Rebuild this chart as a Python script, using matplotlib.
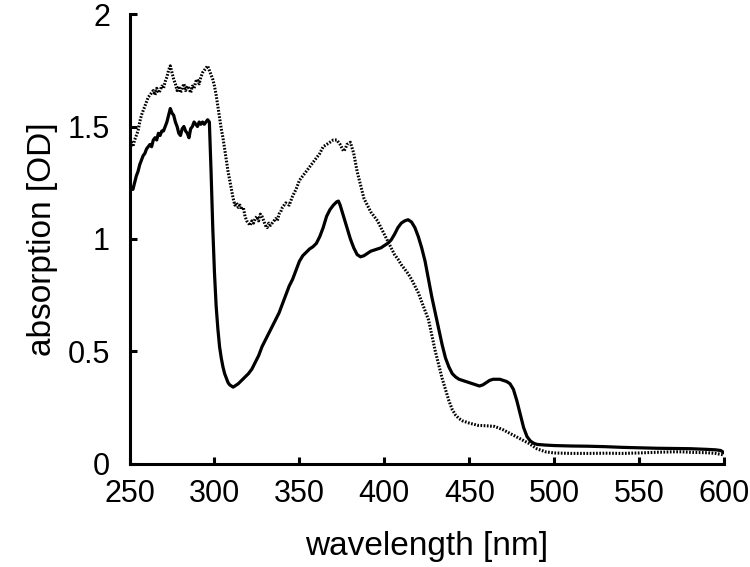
import matplotlib
matplotlib.use("Agg")
import matplotlib.pyplot as plt

plt.rcParams['font.family'] = ['Liberation Sans', 'DejaVu Sans']

# Solid spectrum
wl_solid = [250, 251, 252, 253, 254, 255, 256, 257, 258, 259, 260, 261, 262, 263, 264, 265,
            266, 267, 268, 269, 270, 271, 272, 273, 274, 275, 276, 277, 278, 279, 280, 281,
            282, 283, 284, 285, 286, 287, 288, 289, 290, 291, 292, 293, 294, 295, 296, 297,
            298, 299, 300, 301, 302, 303, 304, 305, 306, 307, 308, 309, 310, 311, 312, 314,
            316, 318, 320, 322, 324, 326, 328, 330, 332, 334, 336, 338, 340, 342, 344, 346,
            348, 350, 352, 354, 356, 358, 360, 362, 364, 366, 368, 370, 372, 373, 374, 376,
            378, 380, 382, 384, 386, 388, 390, 392, 394, 396, 398, 400, 402, 404, 406, 408,
            410, 412, 414, 416, 418, 420, 422, 424, 426, 428, 430, 432, 434, 436, 438, 440,
            442, 444, 446, 448, 450, 452, 454, 456, 458, 460, 462, 464, 466, 468, 470, 472,
            474, 476, 478, 480, 482, 484, 486, 488, 490, 495, 500, 510, 520, 530, 540, 550,
            560, 570, 580, 590, 595, 598, 600]
abs_solid = [1.20, 1.23, 1.22, 1.25, 1.28, 1.30, 1.33, 1.35, 1.37, 1.38, 1.40, 1.41, 1.42, 1.41, 1.44, 1.45,
             1.44, 1.47, 1.46, 1.48, 1.48, 1.50, 1.52, 1.55, 1.58, 1.56, 1.55, 1.52, 1.50, 1.47, 1.46, 1.49,
             1.50, 1.48, 1.47, 1.45, 1.49, 1.50, 1.52, 1.51, 1.50, 1.52, 1.51, 1.52, 1.51, 1.52, 1.53, 1.52,
             1.30, 1.05, 0.85, 0.70, 0.60, 0.52, 0.47, 0.43, 0.40, 0.38, 0.36, 0.35, 0.345, 0.34, 0.345, 0.355,
             0.37, 0.385, 0.40, 0.42, 0.45, 0.48, 0.52, 0.55, 0.58, 0.61, 0.64, 0.67, 0.71, 0.75, 0.79, 0.82,
             0.86, 0.90, 0.925, 0.94, 0.955, 0.965, 0.98, 1.01, 1.05, 1.10, 1.13, 1.15, 1.165, 1.168, 1.15, 1.10,
             1.05, 1.00, 0.96, 0.93, 0.92, 0.925, 0.935, 0.945, 0.95, 0.955, 0.96, 0.97, 0.98, 0.995, 1.02, 1.05,
             1.07, 1.08, 1.085, 1.075, 1.05, 1.01, 0.96, 0.90, 0.82, 0.74, 0.67, 0.60, 0.53, 0.47, 0.43, 0.40,
             0.385, 0.375, 0.37, 0.365, 0.36, 0.355, 0.35, 0.345, 0.35, 0.36, 0.37, 0.375, 0.375, 0.375, 0.37, 0.365,
             0.355, 0.33, 0.28, 0.22, 0.16, 0.12, 0.10, 0.09, 0.085, 0.082, 0.08, 0.078, 0.077, 0.075, 0.072, 0.070,
             0.068, 0.067, 0.066, 0.063, 0.061, 0.058, 0.048]

# Dotted spectrum
wl_dotted = [250, 251, 252, 253, 254, 255, 256, 257, 258, 259, 260, 261, 262, 263, 264, 265,
             266, 267, 268, 269, 270, 271, 272, 273, 274, 275, 276, 277, 278, 279, 280, 281,
             282, 283, 284, 285, 286, 287, 288, 289, 290, 291, 292, 293, 294, 295, 296, 297,
             298, 299, 300, 301, 302, 303, 304, 305, 306, 307, 308, 309, 310, 311, 312, 313,
             314, 315, 316, 317, 318, 319, 320, 321, 322, 323, 324, 325, 326, 327, 328, 329,
             330, 331, 332, 333, 334, 335, 336, 337, 338, 339, 340, 342, 344, 346, 348, 350,
             352, 354, 356, 358, 360, 362, 364, 366, 368, 370, 372, 374, 376, 377, 378, 380,
             382, 384, 386, 388, 390, 392, 394, 396, 398, 400, 402, 404, 406, 408, 410, 412,
             414, 416, 418, 420, 422, 424, 426, 428, 430, 432, 434, 436, 438, 440, 442, 444,
             446, 448, 450, 455, 460, 465, 470, 475, 480, 485, 490, 495, 500, 510, 520, 530,
             540, 550, 560, 570, 575, 580, 590, 595, 600]
abs_dotted = [1.40, 1.43, 1.41, 1.44, 1.46, 1.48, 1.52, 1.55, 1.57, 1.59, 1.61, 1.63, 1.64, 1.65, 1.66, 1.64,
              1.67, 1.65, 1.66, 1.68, 1.67, 1.70, 1.72, 1.75, 1.77, 1.74, 1.71, 1.69, 1.66, 1.68, 1.65, 1.67,
              1.69, 1.66, 1.68, 1.67, 1.65, 1.68, 1.67, 1.70, 1.71, 1.69, 1.72, 1.74, 1.75, 1.76, 1.77, 1.75,
              1.73, 1.71, 1.68, 1.64, 1.59, 1.54, 1.49, 1.45, 1.40, 1.35, 1.30, 1.26, 1.22, 1.18, 1.15, 1.16,
              1.14, 1.15, 1.13, 1.14, 1.10, 1.08, 1.07, 1.06, 1.08, 1.07, 1.09, 1.10, 1.08, 1.11, 1.10, 1.08,
              1.06, 1.05, 1.07, 1.06, 1.07, 1.08, 1.09, 1.08, 1.11, 1.12, 1.14, 1.16, 1.15, 1.19, 1.22, 1.26,
              1.28, 1.30, 1.32, 1.34, 1.36, 1.38, 1.41, 1.42, 1.43, 1.44, 1.44, 1.42, 1.39, 1.40, 1.42, 1.43,
              1.38, 1.30, 1.24, 1.18, 1.15, 1.12, 1.10, 1.08, 1.05, 1.02, 0.99, 0.96, 0.93, 0.91, 0.885, 0.865,
              0.845, 0.82, 0.79, 0.76, 0.72, 0.68, 0.64, 0.57, 0.50, 0.44, 0.38, 0.33, 0.28, 0.24, 0.215, 0.20,
              0.19, 0.185, 0.18, 0.17, 0.168, 0.165, 0.15, 0.13, 0.11, 0.09, 0.065, 0.052, 0.047, 0.045, 0.045, 0.046,
              0.045, 0.047, 0.05, 0.052, 0.052, 0.05, 0.048, 0.045, 0.038]

x_ticks = [250, 300, 350, 400, 450, 500, 550, 600]
y_ticks = [0, 0.5, 1, 1.5, 2]
y_tick_labels = ["0", "0.5", "1", "1.5", "2"]

fig = plt.figure(figsize=(7.5, 5.67), dpi=100)
ax = fig.add_axes([0.1727, 0.1825, 0.7927, 0.7925])

ax.plot(wl_dotted, abs_dotted, color='black', lw=2.2, dashes=(0.55, 0.5))
ax.plot(wl_solid, abs_solid, color='black', lw=2.3, solid_joinstyle='round')

ax.set_xlim(250, 600)
ax.set_ylim(0, 2)
ax.set_xticks(x_ticks)
ax.set_yticks(y_ticks)
ax.set_yticklabels(y_tick_labels)

for s in ['top', 'right']:
    ax.spines[s].set_visible(False)
for s in ['left', 'bottom']:
    ax.spines[s].set_linewidth(2.2)

ax.tick_params(axis='both', direction='in', length=5, width=2.2, labelsize=22)
ax.tick_params(axis='y', pad=14)
ax.tick_params(axis='x', pad=11)

ax.set_xlabel('wavelength [nm]', fontsize=24, labelpad=16)
ax.set_ylabel('absorption [OD]', fontsize=24, labelpad=7)

fig.savefig('out.png', dpi=100)
